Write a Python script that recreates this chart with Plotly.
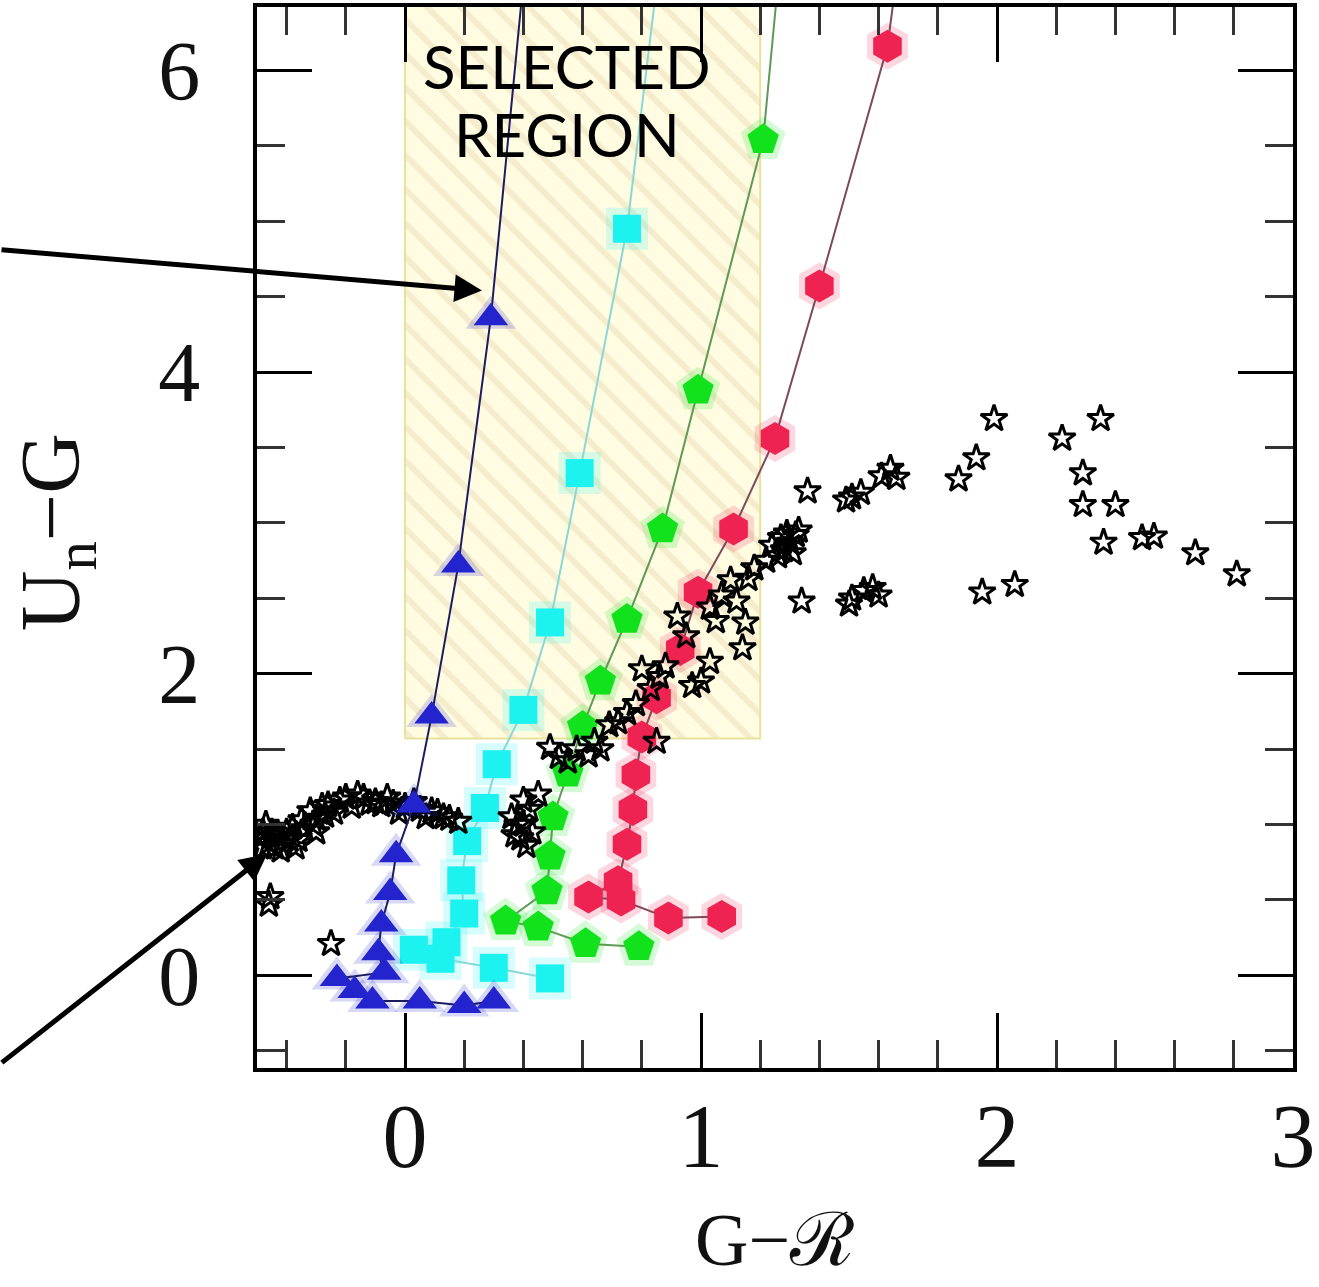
import plotly.graph_objects as go

# ---------------- data ----------------
# model redshift tracks: G-R (x) and Un-G (y)
blue_x = [0.43, 0.29, 0.18, 0.09, 0.03, -0.03, -0.05, -0.08, -0.09, -0.07, -0.23, -0.17, -0.11, 0.05, 0.20, 0.30]
blue_y = [7.20, 4.36, 2.72, 1.72, 1.13, 0.80, 0.55, 0.34, 0.15, 0.02, -0.02, -0.10, -0.17, -0.17, -0.20, -0.17]

cyan_x = [0.89, 0.75, 0.59, 0.49, 0.40, 0.31, 0.27, 0.21, 0.19, 0.20, 0.14, 0.03, 0.12, 0.30, 0.49]
cyan_y = [7.20, 4.95, 3.33, 2.34, 1.76, 1.40, 1.11, 0.89, 0.63, 0.41, 0.22, 0.17, 0.11, 0.05, -0.02]

green_x = [1.29, 1.21, 0.99, 0.87, 0.75, 0.66, 0.60, 0.55, 0.50, 0.49, 0.48, 0.34, 0.45, 0.61, 0.79]
green_y = [7.20, 5.54, 3.88, 2.96, 2.36, 1.95, 1.65, 1.34, 1.05, 0.79, 0.56, 0.36, 0.32, 0.21, 0.19]

red_x = [1.70, 1.63, 1.40, 1.25, 1.11, 0.99, 0.93, 0.85, 0.80, 0.78, 0.77, 0.75, 0.72, 0.62, 0.73, 0.89, 1.07]
red_y = [7.20, 6.16, 4.57, 3.56, 2.96, 2.54, 2.16, 1.84, 1.58, 1.33, 1.10, 0.87, 0.62, 0.52, 0.50, 0.38, 0.39]

# stars (open star symbols)
star_x = [1.99, 2.35, 2.22, 1.93, 1.87, 1.61, 1.64, 1.66, 1.51, 1.54, 1.49, 1.36, 2.29, 2.29, 2.40, 2.36,
          2.49, 2.53, 2.67, 2.81,
          1.34, 1.55, 1.58, 1.60, 1.50, 1.51, 1.95, 2.06,
          1.30, 1.28, 1.32, 1.26, 1.33, 1.22, 1.16, 1.15, 1.14, 1.07, 1.10, 1.03, 1.00, 0.97, 0.92,
          0.80, 0.86, 0.72, 0.69, 0.85, 0.62, 0.66, 0.49, 0.52, 0.40, 0.42, 0.39, 0.38, 0.41, 0.36,
          0.40, 0.43, 0.37, 0.45, 0.55, 0.58, 0.64, 0.75, 0.78, 0.83, 0.88, 0.95, 1.05, 1.18, 1.24,
          1.29, 1.31, 1.27, 1.12, 1.03,
          -0.49, -0.45, -0.47, -0.41, -0.38, -0.35, -0.32, -0.28, -0.26, -0.22, -0.20, -0.16, -0.14,
          -0.10, -0.08, -0.04, 0.00, 0.05, 0.09, 0.13, 0.18, -0.40, -0.36, -0.30, -0.44,
          -0.48, -0.43, -0.39, -0.34, -0.31, -0.27, -0.24, -0.18, -0.12, -0.06, -0.02, 0.03, 0.07,
          0.11, 0.15, -0.46, -0.37, -0.42, -0.48, -0.30,
          -0.455, -0.46, -0.25]
star_y = [3.69, 3.69, 3.56, 3.43, 3.29, 3.31, 3.36, 3.30, 3.17, 3.20, 3.15, 3.21, 3.33, 3.12, 3.12, 2.87,
          2.90, 2.91, 2.80, 2.66,
          2.48, 2.55, 2.57, 2.52, 2.46, 2.50, 2.54, 2.59,
          2.87, 2.82, 2.92, 2.78, 2.95, 2.75, 2.63, 2.34, 2.17, 2.52, 2.62, 2.08, 1.95, 1.92, 2.38,
          2.03, 1.98, 1.68, 1.66, 1.55, 1.46, 1.50, 1.51, 1.45, 1.16, 1.10, 0.91, 1.00, 0.86, 1.05,
          1.00, 0.95, 0.93, 1.20, 1.42, 1.50, 1.55, 1.74, 1.80, 1.90, 2.05, 2.25, 2.35, 2.70, 2.85,
          2.93, 2.80, 2.90, 2.48, 2.44,
          0.91, 0.95, 1.00, 0.87, 0.98, 1.03, 1.09, 1.12, 1.13, 1.16, 1.18, 1.20, 1.18,
          1.15, 1.13, 1.14, 1.12, 1.10, 1.09, 1.05, 1.02, 0.95, 0.90, 1.04, 0.85,
          0.95, 0.92, 0.90, 0.97, 1.00, 1.06, 1.08, 1.12, 1.14, 1.18, 1.08, 1.15, 1.05,
          1.08, 1.04, 0.88, 0.85, 0.83, 0.85, 0.95,
          0.52, 0.47, 0.21]

# selected region (G-R from 0 to 1.2, Un-G above 1.57)
region_x = [0.0, 1.2, 1.2, 0.0, 0.0]
region_y = [1.57, 1.57, 7.5, 7.5, 1.57]

x_tickvals = [0, 1, 2, 3]
x_ticktext = ["0", "1", "2", "3"]
y_tickvals = [0, 2, 4, 6]
y_ticktext = ["0", "2", "4", "6"]

# ---------------- figure ----------------
fig = go.Figure()

fig.add_trace(go.Scatter(
    x=region_x, y=region_y, mode="lines", fill="toself",
    fillcolor="#fffce2",
    fillpattern=dict(shape="\\", fgcolor="#eadcb6", bgcolor="#fffce2", size=24, solidity=0.25),
    line=dict(color="#e8e39c", width=2), hoverinfo="skip", showlegend=False))


def add_track(x, y, symbol, color, linecolor, size):
    fig.add_trace(go.Scatter(
        x=x, y=y, mode="markers",
        marker=dict(symbol=symbol, size=size + 14, color=color, opacity=0.18, line=dict(width=0)),
        hoverinfo="skip", showlegend=False))
    fig.add_trace(go.Scatter(
        x=x, y=y, mode="lines+markers",
        line=dict(color=linecolor, width=2),
        marker=dict(symbol=symbol, size=size, color=color, line=dict(width=0)),
        showlegend=False))


add_track(red_x, red_y, "hexagon", "#ef2352", "#7d4a58", 33)
add_track(green_x, green_y, "pentagon", "#12e21c", "#5f9a55", 33)
add_track(cyan_x, cyan_y, "square", "#1cf2f0", "#8ad8d6", 28)

fig.add_trace(go.Scatter(
    x=star_x, y=star_y, mode="markers",
    marker=dict(symbol="star-open", size=20, color="black", line=dict(width=3, color="black")),
    showlegend=False))

add_track(blue_x, blue_y, "triangle-up", "#2424cf", "#1c1c60", 30)

axis_common = dict(
    ticks="inside", tickwidth=3, tickcolor="black",
    mirror="allticks", showline=True, linewidth=4, linecolor="black",
    showgrid=False, zeroline=False,
)

fig.update_layout(
    width=1319, height=1287,
    margin=dict(l=257, r=24, t=3, b=219),
    paper_bgcolor="white", plot_bgcolor="white",
    showlegend=False,
    xaxis=dict(
        range=[-0.5, 3.0], tickmode="array", tickvals=x_tickvals, ticktext=x_ticktext,
        ticklen=55,
        tickfont=dict(family="Liberation Serif", size=90, color="#111"),
        ticklabelstandoff=-13,
        minor=dict(tickmode="linear", tick0=0, dtick=0.2, ticks="inside", ticklen=28,
                   tickwidth=3, tickcolor="#333", showgrid=False),
        **axis_common),
    yaxis=dict(
        range=[-0.614, 6.42], tickmode="array", tickvals=y_tickvals, ticktext=y_ticktext,
        ticklen=55,
        tickfont=dict(family="Liberation Serif", size=84, color="#111"),
        ticklabelstandoff=36,
        minor=dict(tickmode="linear", tick0=0, dtick=0.5, ticks="inside", ticklen=28,
                   tickwidth=3, tickcolor="#333", showgrid=False),
        **axis_common),
)

# text and arrows
fig.add_annotation(x=0.546, y=6.03, xref="x", yref="y", text="SELECTED", showarrow=False,
                   font=dict(family="Lato", size=60, color="black"))
fig.add_annotation(x=0.546, y=5.58, xref="x", yref="y", text="REGION", showarrow=False,
                   font=dict(family="Lato", size=60, color="black"))

fig.add_annotation(x=0.26, y=4.54, xref="x", yref="y", text="", showarrow=True,
                   ax=-482, ay=-41, axref="pixel", ayref="pixel",
                   arrowhead=2, arrowsize=1.1, arrowwidth=5, arrowcolor="black", standoff=0)
fig.add_annotation(x=-0.465, y=0.806, xref="x", yref="y", text="", showarrow=True,
                   ax=-267, ay=210, axref="pixel", ayref="pixel",
                   arrowhead=2, arrowsize=1.1, arrowwidth=5, arrowcolor="black", standoff=0)

fig.add_annotation(x=0.5, y=-0.162, xref="paper", yref="paper", text="G\u2212\u211b",
                   showarrow=False, xanchor="center", yanchor="middle",
                   font=dict(family="Liberation Serif, DejaVu Serif", size=74, color="#111"))
fig.add_annotation(x=-0.193, y=0.505, xref="paper", yref="paper", text="U<sub>n</sub>\u2212G",
                   showarrow=False, textangle=-90, xanchor="center", yanchor="middle",
                   font=dict(family="Liberation Serif", size=84, color="#111"))

fig.write_html("out.html", config={"displayModeBar": False},
               post_script="document.body.style.margin='0';")
